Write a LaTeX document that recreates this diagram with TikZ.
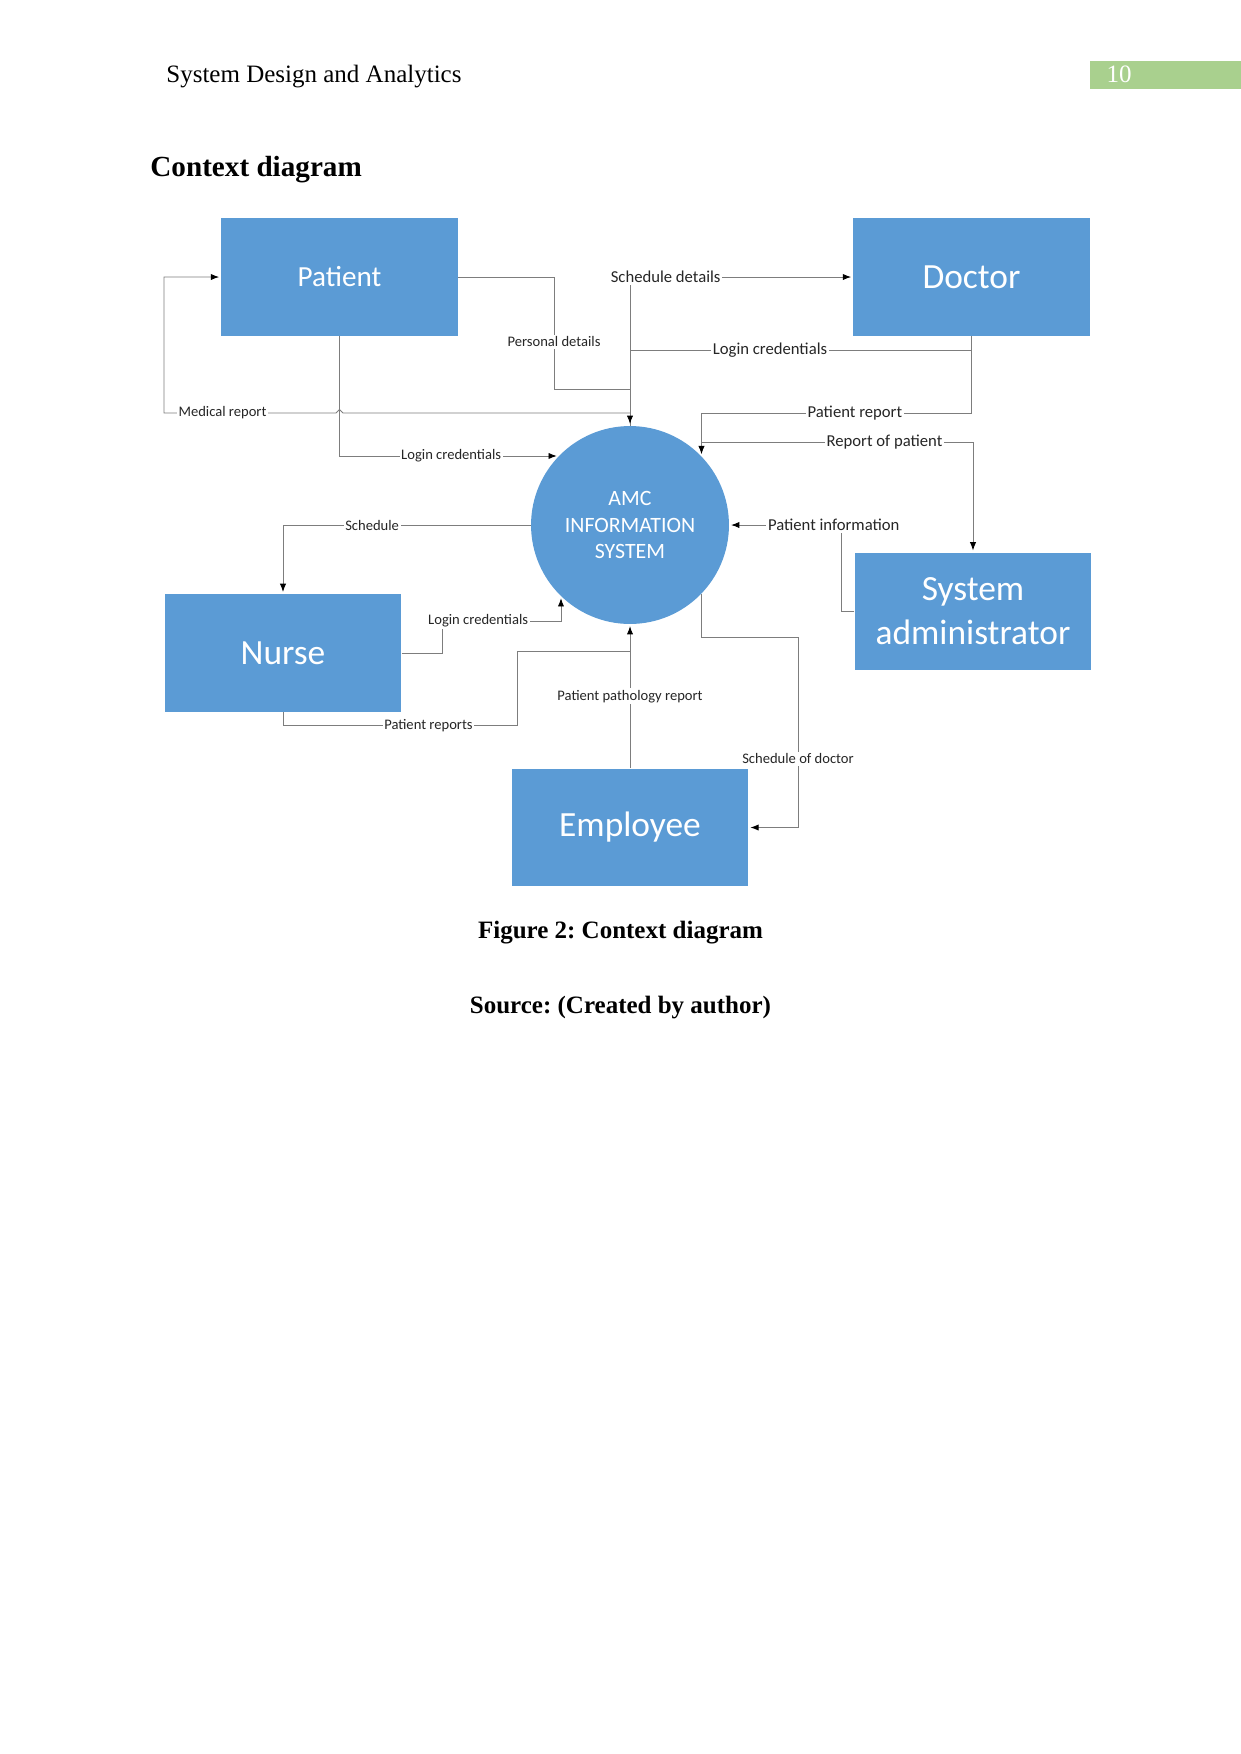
\documentclass[tikz,border=0pt]{standalone}
\usepackage{fontspec}
\setmainfont{Liberation Serif}
\newfontfamily\diafont{Carlito}
\usepackage{xcolor}
\usetikzlibrary{positioning,arrows.meta,calc}
\definecolor{entityblue}{RGB}{91,155,213}
\definecolor{pagegreen}{RGB}{169,208,142}
\definecolor{linegray}{RGB}{125,125,125}
\frenchspacing

\begin{document}
\begin{tikzpicture}[
  x=0.48pt, y=-0.48pt,
  entitybox/.style={fill=entityblue, text=white, inner sep=0pt, align=center, minimum width=113.5pt, minimum height=56.5pt, font=\diafont\fontsize{17}{21}\selectfont},
  processnode/.style={circle, fill=entityblue, text=white, inner sep=0pt, align=center, minimum size=95pt, font=\diafont\fontsize{10.5}{12.5}\selectfont},
  dataline/.style={draw=linegray, line width=0.45pt},
  flow/.style={dataline, -{Latex[length=4pt,width=3pt,color=black]}, shorten >=0.8pt},
  flowlabel/.style={fill=white, inner sep=0.8pt, text=black!85, font=\diafont\fontsize{7}{8}\selectfont},
  biglabel/.style={flowlabel, font=\diafont\fontsize{8}{9.5}\selectfont},
  pagetext/.style={inner sep=0pt, font=\fontsize{12}{14}\selectfont}
]
\useasboundingbox (0,0) rectangle (1241,1754);

% page head
\node[pagetext, anchor=base west] (runhead) at (166,82.5) {System Design and Analytics};
\fill[pagegreen] (1090,61) rectangle (1241,89);
\node[pagetext, anchor=base, text=white] (pagenum) at (1119,82.5) {10};
\node[pagetext, anchor=base west, font=\bfseries\fontsize{14}{16}\selectfont] (sectitle) at (150,176.5) {Context diagram};

% entities and process
\node[processnode] (amc) at (630,525) {AMC\\INFORMATION\\SYSTEM};
\node[entitybox, font=\diafont\fontsize{14}{17}\selectfont] (patient) at (339.5,277) {Patient};
\node[entitybox] (doctor) at (971.5,277) {Doctor};
\node[entitybox] (sysadmin) at (973,611.5) {System\\administrator};
\node[entitybox] (nurse) at (283,653) {Nurse};
\node[entitybox] (employee) at (630,827.5) {Employee};

% flows round the top
\draw[flow] (amc.north) |- (doctor.west) node[biglabel, pos=0.58] {Schedule details};
\draw[flow] (doctor.south) |- (amc.north |- 0,350) node[biglabel, pos=0.795] {Login credentials} -- (amc.north);
\draw[dataline] (patient.east) -| (554,389) node[flowlabel, pos=0.79] {Personal details} -- (amc.north |- 0,389);
\draw[flow] (amc.north |- 0,413) -- (343,413) -- (339.5,409.5) -- (336,413)
  -- node[flowlabel, pos=0.66] {Medical report} (164,413) |- (patient.west);
\draw[flow] (patient.south) |- (amc.136) node[flowlabel, pos=0.755] {Login credentials};
\draw[flow] (doctor.south) |- (amc.44 |- 0,413) node[biglabel, pos=0.716] {Patient report} -- (amc.44);
\draw[flow] (amc.44 |- 0,442) -| (sysadmin.north) node[biglabel, pos=0.337] {Report of patient};
\draw[flow] (sysadmin.west) -| (841.6,525) -- (amc.east) node[biglabel, pos=0.07] {Patient information};

% flows round the bottom
\draw[flow] (amc.west) -| (nurse.north) node[flowlabel, pos=0.32] {Schedule};
\draw[flow] (nurse.east) -| (442,621) -| (amc.226) node[flowlabel, pos=0.152] {Login credentials};
\draw[dataline] (nurse.south) |- (517.6,725.7) node[flowlabel, pos=0.81] {Patient reports} |- (amc.south |- 0,651);
\draw[flow] (employee.north) -- (amc.south) node[flowlabel, midway] {Patient pathology report};
\draw[flow] (amc.316) |- (798,637) |- (employee.east) node[flowlabel, pos=0.32] {Schedule of doctor};

% caption
\node[pagetext, anchor=base, font=\bfseries\fontsize{12}{14}\selectfont] (figcap) at (620.5,938) {Figure 2: Context diagram};
\node[pagetext, anchor=base, font=\bfseries\fontsize{12}{14}\selectfont] (figsrc) at (620.5,1013) {Source: (Created by author)};
\end{tikzpicture}
\end{document}
